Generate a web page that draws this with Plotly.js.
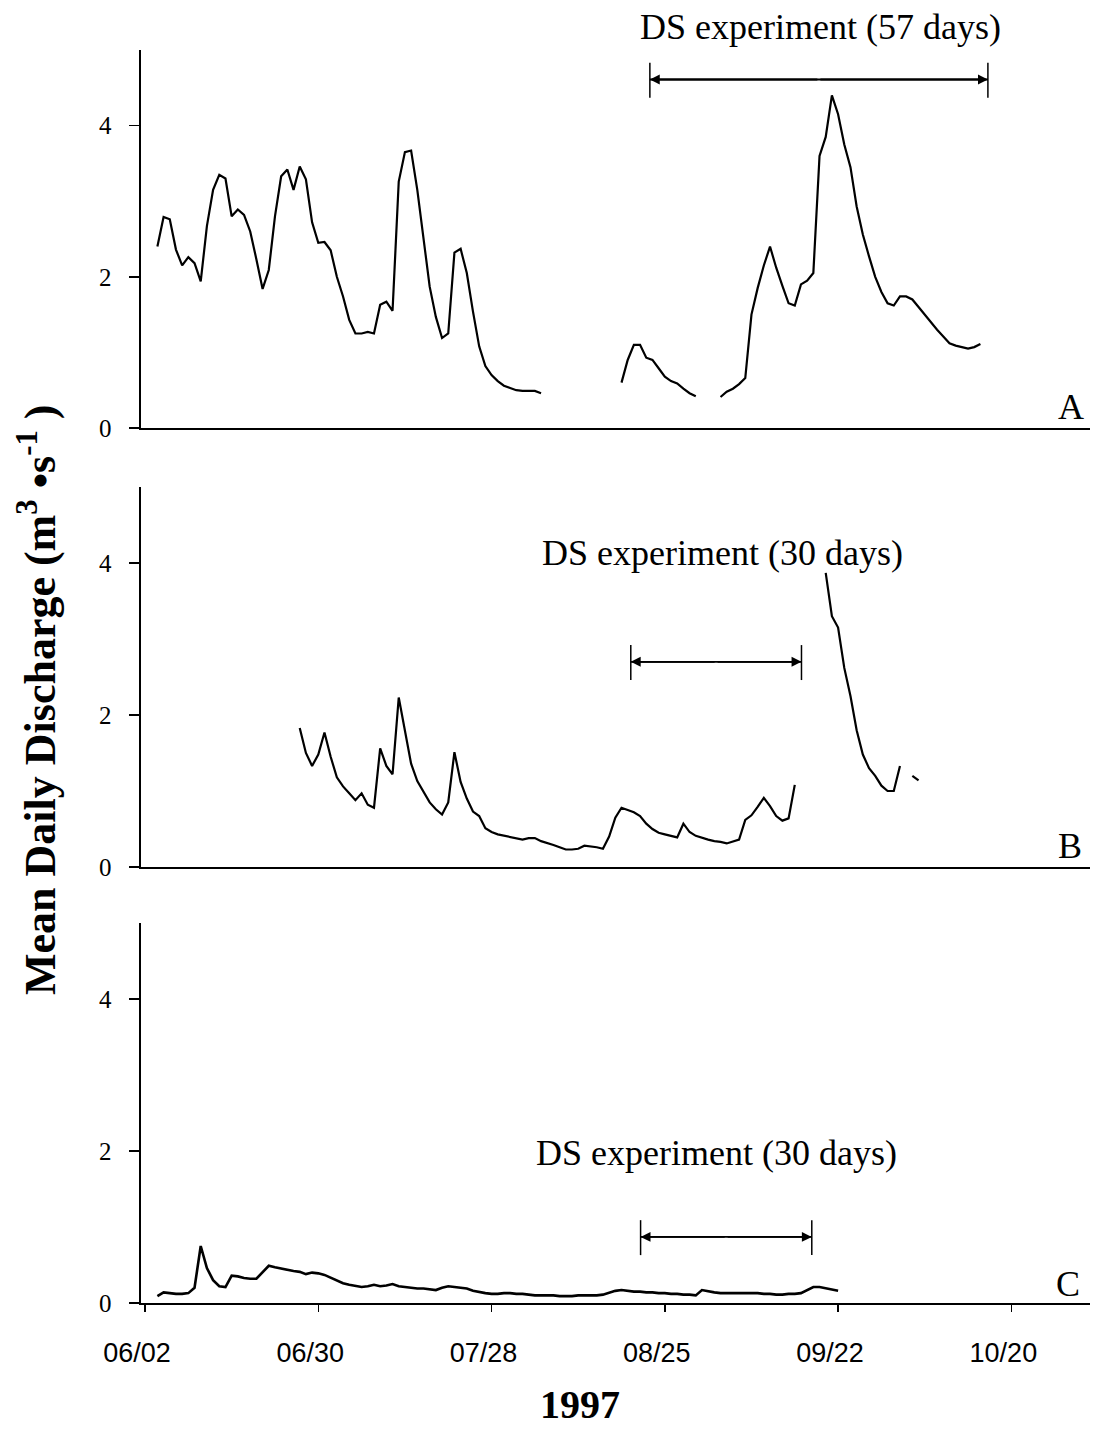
<!DOCTYPE html>
<html>
<head>
<meta charset="utf-8">
<script src="https://cdn.plot.ly/plotly-3.0.1.min.js"></script>
<style>html,body{margin:0;padding:0;background:#fff;}#chart{width:1094px;height:1431px;}</style>
</head>
<body>
<div id="chart"></div>
<script>
// ---- data (mean daily discharge, m3/s), daily values, null = no record ----
const startA = '1997-06-04';
const valuesA = [2.40,2.79,2.76,2.36,2.15,2.26,2.18,1.94,2.67,3.15,3.35,3.30,2.80,2.89,2.82,2.60,2.23,1.84,2.09,2.80,3.33,3.42,3.15,3.46,3.29,2.72,2.45,2.46,2.35,2.00,1.74,1.43,1.25,1.25,1.27,1.25,1.63,1.67,1.55,3.26,3.65,3.67,3.15,2.53,1.87,1.47,1.19,1.25,2.32,2.37,2.05,1.54,1.08,0.82,0.70,0.62,0.56,0.53,0.50,0.49,0.49,0.49,0.46,
 null,null,null,null,null,null,null,null,null,null,null,null,
 0.60,0.90,1.10,1.10,0.93,0.90,0.79,0.68,0.62,0.59,0.52,0.46,0.42,
 null,null,null,
 0.41,0.48,0.52,0.58,0.66,1.50,1.85,2.15,2.40,2.12,1.88,1.65,1.62,1.90,1.95,2.05,3.60,3.85,4.40,4.15,3.75,3.45,2.93,2.56,2.27,2.00,1.80,1.65,1.62,1.74,1.74,1.70,1.60,1.50,1.39,1.30,1.21,1.12,1.09,1.07,1.05,1.07,1.11];

const startB = '1997-06-27';
const valuesB = [1.83,1.50,1.33,1.48,1.77,1.45,1.18,1.06,0.97,0.88,0.97,0.82,0.78,1.56,1.33,1.22,2.23,1.78,1.36,1.13,0.99,0.85,0.76,0.69,0.85,1.51,1.12,0.90,0.73,0.67,0.51,0.46,0.43,0.41,0.39,0.37,0.36,0.38,0.38,0.34,0.32,0.29,0.26,0.23,0.23,0.24,0.28,0.27,0.26,0.24,0.40,0.65,0.78,0.75,0.72,0.67,0.57,0.50,0.45,0.43,0.41,0.39,0.57,0.46,0.41,0.38,0.36,0.34,0.33,0.31,0.33,0.36,0.62,0.68,0.79,0.91,0.80,0.67,0.61,0.64,1.08,
 null,null,null,null,
 3.87,3.30,3.15,2.62,2.25,1.80,1.48,1.30,1.20,1.07,1.00,1.00,1.33,
 null,
 1.20,1.14];

const startC = '1997-06-04';
const valuesC = [0.09,0.14,0.13,0.12,0.12,0.13,0.20,0.75,0.46,0.30,0.22,0.21,0.36,0.35,0.33,0.32,0.32,0.40,0.49,0.47,0.45,0.44,0.42,0.41,0.38,0.40,0.39,0.37,0.33,0.29,0.26,0.24,0.22,0.21,0.22,0.24,0.22,0.23,0.25,0.22,0.21,0.20,0.19,0.19,0.18,0.17,0.20,0.22,0.21,0.20,0.19,0.16,0.14,0.13,0.12,0.12,0.13,0.13,0.12,0.12,0.11,0.10,0.10,0.10,0.10,0.09,0.09,0.09,0.10,0.10,0.10,0.10,0.11,0.14,0.16,0.17,0.16,0.15,0.15,0.14,0.14,0.13,0.13,0.12,0.12,0.11,0.11,0.10,0.17,0.15,0.14,0.13,0.13,0.13,0.13,0.13,0.13,0.13,0.12,0.12,0.11,0.11,0.12,0.12,0.13,0.17,0.21,0.21,0.19,0.17,0.16];

// experiment periods (start, end) and labels
const expA = ['1997-08-22 14:00', '1997-10-16 05:00'];
const expB = ['1997-08-19 12:00', '1997-09-16 02:00'];
const expC = ['1997-08-21 02:00', '1997-09-17 18:00'];
const expLabels = ['DS experiment (57 days)', 'DS experiment (30 days)', 'DS experiment (30 days)'];
const panelLetters = ['A', 'B', 'C'];

const tickDates = ['1997-06-02','1997-06-30','1997-07-28','1997-08-25','1997-09-22','1997-10-20'];
const tickLabels = ['06/02','06/30','07/28','08/25','09/22','10/20'];
const yTicks = [0, 2, 4];

// ---- helpers ----
function datesFrom(start, n) {
  const out = [];
  const t0 = Date.parse(start + 'T00:00:00Z');
  for (let i = 0; i < n; i++) {
    out.push(new Date(t0 + i * 86400000).toISOString().slice(0, 10));
  }
  return out;
}
function midDate(a, b) {
  const ta = Date.parse(a.replace(' ', 'T') + ':00Z');
  const tb = Date.parse(b.replace(' ', 'T') + ':00Z');
  return new Date((ta + tb) / 2).toISOString().replace('T', ' ').slice(0, 16);
}

const serif = 'Liberation Serif, Times New Roman, serif';
const sans = 'Liberation Sans, Arial, sans-serif';

const traces = [
  {x: datesFrom(startA, valuesA.length), y: valuesA, xaxis: 'x', yaxis: 'y', mode: 'lines',
   line: {color: '#000', width: 2.2}, hoverinfo: 'skip'},
  {x: datesFrom(startB, valuesB.length), y: valuesB, xaxis: 'x2', yaxis: 'y2', mode: 'lines',
   line: {color: '#000', width: 2.2}, hoverinfo: 'skip'},
  {x: datesFrom(startC, valuesC.length), y: valuesC, xaxis: 'x3', yaxis: 'y3', mode: 'lines',
   line: {color: '#000', width: 2.6}, hoverinfo: 'skip'}
];

const xRange = ['1997-06-01 08:24', '1997-11-01 17:00'];
function xAxis(anchor, showTicks) {
  return {
    type: 'date', range: xRange, anchor: anchor, domain: [0, 1],
    showline: true, linecolor: '#000', linewidth: 2.2, showgrid: false, zeroline: false,
    tickmode: 'array', tickvals: tickDates, ticktext: tickLabels,
    ticks: showTicks ? 'outside' : '', ticklen: 7, tickwidth: 1.5, tickcolor: '#000',
    showticklabels: showTicks, ticklabelshift: -8, ticklabelstandoff: 17,
    tickfont: {family: sans, size: 27, color: '#000'}
  };
}
function yAxis(anchor, domain) {
  return {
    range: [0, 5], anchor: anchor, domain: domain,
    showline: true, linecolor: '#000', linewidth: 1.6, showgrid: false, zeroline: false,
    tickmode: 'array', tickvals: yTicks, ticks: 'outside', ticklen: 10, tickwidth: 1.6, tickcolor: '#000',
    ticklabelstandoff: 13,
    tickfont: {family: serif, size: 25, color: '#000'}
  };
}

// layout geometry: margins l=141 r=4 t=50 b=128
const exps = [
  {p: expA, x: 'x', y: 'y', yArrow: 4.61, yLo: 4.37, yHi: 4.83},
  {p: expB, x: 'x2', y: 'y2', yArrow: 2.70, yLo: 2.46, yHi: 2.92},
  {p: expC, x: 'x3', y: 'y3', yArrow: 0.87, yLo: 0.63, yHi: 1.09}
];
const shapes = [];
const annotations = [];
exps.forEach(e => {
  shapes.push({type: 'line', xref: e.x, yref: e.y, x0: e.p[0], x1: e.p[1], y0: e.yArrow, y1: e.yArrow,
               line: {color: '#000', width: 1.8}});
  shapes.push({type: 'line', xref: e.x, yref: e.y, x0: e.p[0], x1: e.p[0], y0: e.yLo, y1: e.yHi,
               line: {color: '#000', width: 1.5}});
  shapes.push({type: 'line', xref: e.x, yref: e.y, x0: e.p[1], x1: e.p[1], y0: e.yLo, y1: e.yHi,
               line: {color: '#000', width: 1.5}});
  const m = midDate(e.p[0], e.p[1]);
  [e.p[0], e.p[1]].forEach(end => {
    annotations.push({xref: e.x, yref: e.y, axref: e.x, ayref: e.y, x: end, y: e.yArrow, ax: m, ay: e.yArrow,
      text: '', showarrow: true, arrowhead: 2, arrowsize: 1.1, arrowwidth: 1.8, arrowcolor: '#000', standoff: 0});
  });
});

function py(px) { return (1303 - px) / 1253; }
function pxX(px) { return (px - 141) / 949; }

// experiment labels
[[820, 27], [722, 553], [716, 1153]].forEach((pos, i) => {
  annotations.push({xref: 'paper', yref: 'paper', x: pxX(pos[0]), y: py(pos[1]), xanchor: 'center', yanchor: 'middle',
    text: expLabels[i], showarrow: false, font: {family: serif, size: 36, color: '#000'}});
});
// panel letters
[[1071, 407], [1070, 846], [1068, 1284]].forEach((pos, i) => {
  annotations.push({xref: 'paper', yref: 'paper', x: pxX(pos[0]), y: py(pos[1]), xanchor: 'center', yanchor: 'middle',
    text: panelLetters[i], showarrow: false, font: {family: serif, size: 36, color: '#000'}});
});
// axis titles
annotations.push({xref: 'paper', yref: 'paper', x: pxX(38), y: py(700), xanchor: 'center', yanchor: 'middle',
  textangle: -90, showarrow: false,
  text: '<b>Mean Daily Discharge (m<sup>3</sup> •s<sup>-1</sup> )</b>',
  font: {family: serif, size: 44, color: '#000'}});
annotations.push({xref: 'paper', yref: 'paper', x: pxX(580), y: py(1404), xanchor: 'center', yanchor: 'middle',
  showarrow: false, text: '<b>1997</b>', font: {family: serif, size: 40, color: '#000'}});

const layout = {
  width: 1094, height: 1431,
  margin: {l: 141, r: 4, t: 50, b: 128, pad: 0},
  paper_bgcolor: '#fff', plot_bgcolor: '#fff',
  showlegend: false,
  xaxis: xAxis('y', false),
  xaxis2: xAxis('y2', false),
  xaxis3: xAxis('y3', true),
  yaxis: yAxis('x', [(1303 - 428) / 1253, 1]),
  yaxis2: yAxis('x2', [(1303 - 867) / 1253, (1303 - 487) / 1253]),
  yaxis3: yAxis('x3', [0, (1303 - 923) / 1253]),
  shapes: shapes,
  annotations: annotations
};

Plotly.newPlot('chart', traces, layout, {staticPlot: true, displayModeBar: false});
</script>
</body>
</html>
